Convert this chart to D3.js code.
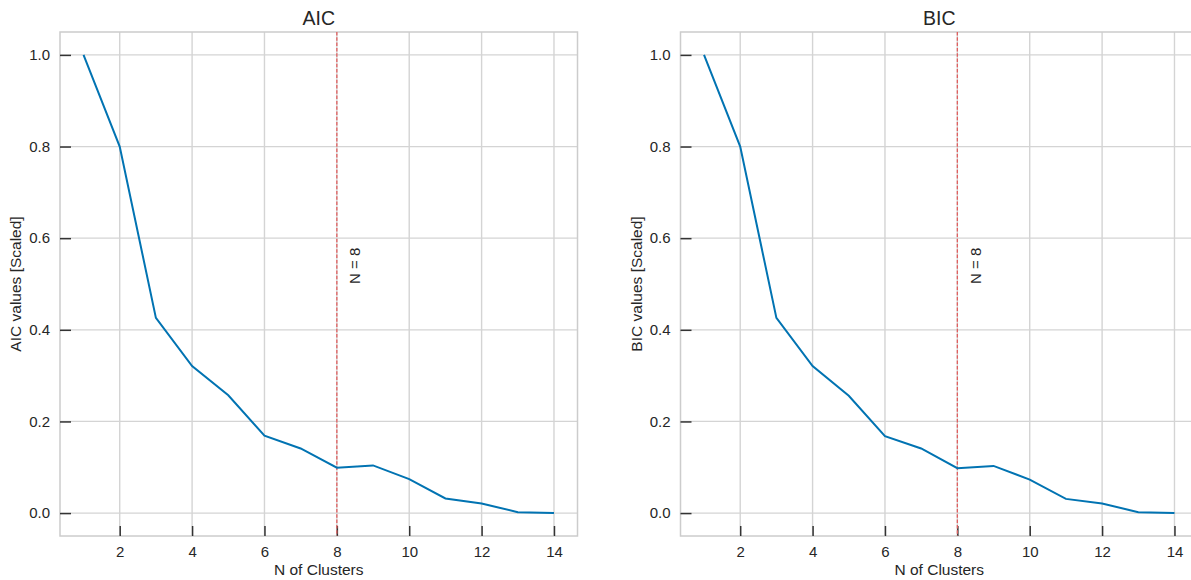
<!DOCTYPE html>
<html>
<head>
<meta charset="utf-8">
<script src="https://cdn.jsdelivr.net/npm/d3@7"></script>
<style>
  body { margin: 0; background: #fff; }
  text { font-family: Arial, "Liberation Sans", sans-serif; fill: #262626; }
</style>
</head>
<body>
<svg id="chart" width="1191" height="580"></svg>
<script>
// data
var clusters = [1, 2, 3, 4, 5, 6, 7, 8, 9, 10, 11, 12, 13, 14];
var aicValues = [1.0, 0.8, 0.426, 0.321, 0.257, 0.169, 0.141, 0.099, 0.104, 0.074, 0.032, 0.021, 0.002, 0.0];
var bicValues = [1.0, 0.8, 0.426, 0.321, 0.256, 0.168, 0.141, 0.098, 0.103, 0.073, 0.031, 0.021, 0.002, 0.0];
var xTicks = [2, 4, 6, 8, 10, 12, 14];
var yTicks = [0.0, 0.2, 0.4, 0.6, 0.8, 1.0];
var bestN = 8;

var svg = d3.select("#chart");

var panels = [
  { title: "AIC", ylabel: "AIC values [Scaled]", values: aicValues, left: 60 },
  { title: "BIC", ylabel: "BIC values [Scaled]", values: bicValues, left: 680.5 }
];

// plot area (window.top is reserved, so other names)
var plotTop = 32, plotBottom = 536, pw = 517.5;

panels.forEach(function (p) {
  var g = svg.append("g");

  var x = d3.scaleLinear()
      .domain([0.35, 14.65])
      .range([p.left, p.left + pw]);
  var y = d3.scaleLinear()
      .domain([-0.05, 1.05])
      .range([plotBottom, plotTop]);

  // grid
  g.append("g").selectAll("line")
      .data(yTicks)
      .enter().append("line")
      .attr("x1", p.left).attr("x2", p.left + pw)
      .attr("y1", function (d) { return y(d); })
      .attr("y2", function (d) { return y(d); })
      .attr("stroke", "#d4d4d4")
      .attr("stroke-width", 1.2);

  g.append("g").selectAll("line")
      .data(xTicks)
      .enter().append("line")
      .attr("x1", function (d) { return x(d); })
      .attr("x2", function (d) { return x(d); })
      .attr("y1", plotTop).attr("y2", plotBottom)
      .attr("stroke", "#d4d4d4")
      .attr("stroke-width", 1.4);

  // frame
  g.append("rect")
      .attr("x", p.left).attr("y", plotTop)
      .attr("width", pw).attr("height", plotBottom - plotTop)
      .attr("fill", "none")
      .attr("stroke", "#cccccc")
      .attr("stroke-width", 1.5);

  // axes (ticks point inward)
  var xAxis = d3.axisBottom(x)
      .tickValues(xTicks)
      .tickSize(-10)
      .tickPadding(10)
      .tickFormat(d3.format("d"));
  var yAxis = d3.axisLeft(y)
      .tickValues(yTicks)
      .tickSize(-11)
      .tickPadding(10)
      .tickFormat(d3.format(".1f"));

  var gx = g.append("g")
      .attr("transform", "translate(0," + plotBottom + ")")
      .call(xAxis);
  var gy = g.append("g")
      .attr("transform", "translate(" + p.left + ",0)")
      .call(yAxis);

  [gx, gy].forEach(function (a) {
    a.select(".domain").remove();
    a.selectAll(".tick line").attr("stroke", "#333").attr("stroke-width", 1.5);
    a.selectAll(".tick text")
      .style("font-size", "15px")
      .style("font-family", "Arial, 'Liberation Sans', sans-serif")
      .attr("fill", "#262626");
  });

  // best N line
  g.append("line")
      .attr("x1", x(bestN)).attr("x2", x(bestN))
      .attr("y1", plotTop).attr("y2", plotBottom)
      .attr("stroke", "#e06060")
      .attr("stroke-width", 1.3)
      .attr("stroke-dasharray", "3.5,1.8");

  // series line
  var line = d3.line()
      .x(function (d, i) { return x(clusters[i]); })
      .y(function (d) { return y(d); });

  g.append("path")
      .datum(p.values)
      .attr("d", line)
      .attr("fill", "none")
      .attr("stroke", "#0173b2")
      .attr("stroke-width", 2);

  // annotation
  g.append("text")
      .attr("transform", "translate(" + (x(bestN + 0.5) + 5.5) + "," + y(0.5) + ") rotate(-90)")
      .style("font-size", "15px")
      .text("N = " + bestN);

  // titles and labels
  g.append("text")
      .attr("x", p.left + pw / 2)
      .attr("y", 25)
      .attr("text-anchor", "middle")
      .style("font-size", "19.5px")
      .text(p.title);

  g.append("text")
      .attr("x", p.left + pw / 2)
      .attr("y", 575)
      .attr("text-anchor", "middle")
      .style("font-size", "15.5px")
      .text("N of Clusters");

  g.append("text")
      .attr("transform", "translate(" + (p.left - 39) + "," + (plotTop + plotBottom) / 2 + ") rotate(-90)")
      .attr("text-anchor", "middle")
      .style("font-size", "15.5px")
      .text(p.ylabel);
});
</script>
</body>
</html>
